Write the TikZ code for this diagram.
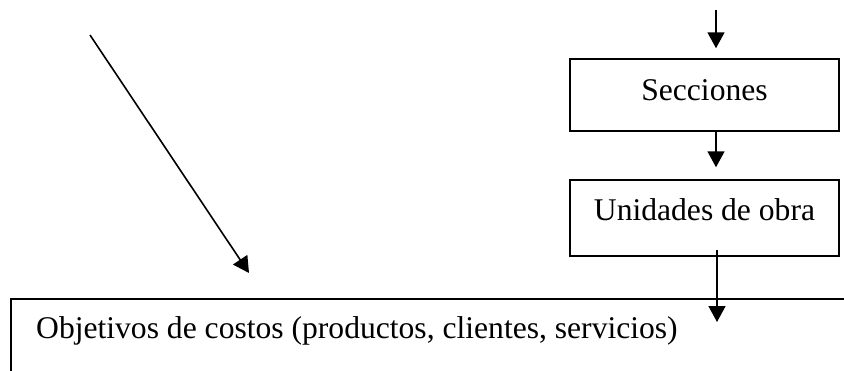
\documentclass[tikz,border=0pt]{standalone}
\usepackage{fontspec}
\setmainfont{Liberation Serif}
\usetikzlibrary{arrows.meta}
\begin{document}
\begin{tikzpicture}[x=1pt,y=-1pt,
  every node/.style={font=\fontsize{31.6pt}{38pt}\selectfont},
  boxst/.style={draw, line width=1.5pt, rectangle, inner sep=0pt},
  arr/.style={line width=1.6pt, -{Triangle[length=16pt,width=17pt]}}]
  \useasboundingbox (0,0) rectangle (844,370);
  \clip (0,0) rectangle (844,370);
  \fill[white] (0,0) rectangle (844,370);

  % boxes
  \node[boxst, minimum width=269pt, minimum height=72pt, text depth=10pt]
    (sec) at (704.5,95) {Secciones};
  \node[boxst, minimum width=269pt, minimum height=76pt, text depth=16pt]
    (uni) at (704.5,218) {Unidades de obra};
  \node[boxst, anchor=north west, minimum width=900pt, minimum height=150pt]
    (obj) at (10,298) {};
  \node[anchor=base west, inner sep=0pt] (objtxt) at (36,338)
    {Objetivos de costos (productos, clientes, servicios)};

  % connectors
  \coordinate (t0) at (716,10);
  \coordinate (u0) at (717,250);
  \coordinate (u1) at (717,322);
  \coordinate (d0) at (90,35);
  \coordinate (d1) at (249,273);
  \draw[arr, shorten >=10pt] (t0) -- (t0 |- sec.north);
  \draw[arr, shorten >=12pt] (t0 |- sec.south) -- (t0 |- uni.north);
  \draw[arr] (u0) -- (u1);
  \draw[arr] (d0) -- (d1);
\end{tikzpicture}
\end{document}
